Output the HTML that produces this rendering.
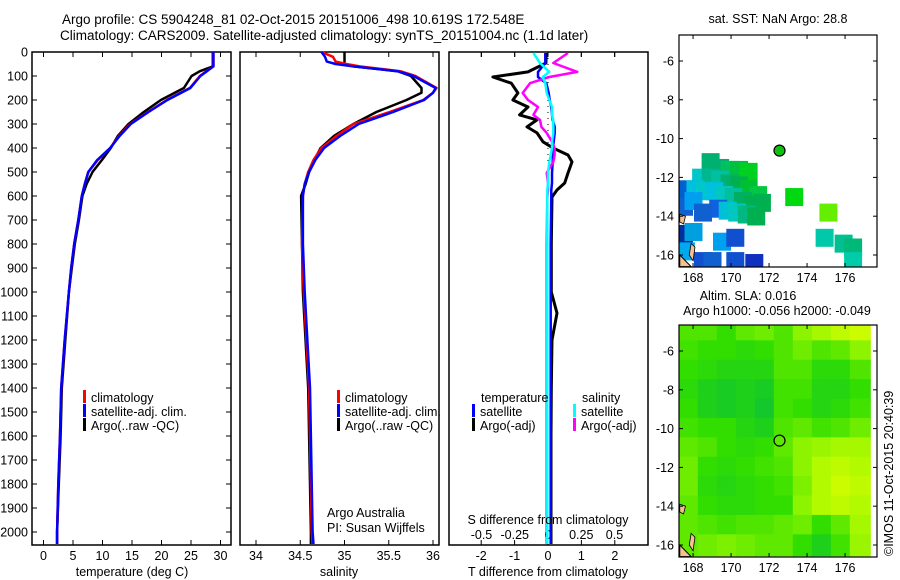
<!DOCTYPE html>
<html><head><meta charset="utf-8"><style>
html,body{margin:0;padding:0;background:#fff;}
svg{display:block;font-family:"Liberation Sans",sans-serif;}
text{fill:#000;}
</style></head><body>
<svg id="chart" width="900" height="580" viewBox="0 0 900 580" xmlns="http://www.w3.org/2000/svg">
<text x="62" y="24" font-size="13.5">Argo profile: CS 5904248_81 02-Oct-2015 20151006_498 10.619S 172.548E</text>
<text x="60" y="40" font-size="13.5">Climatology: CARS2009. Satellite-adjusted climatology: synTS_20151004.nc (1.1d later)</text>
<g id="g-main"></g>
<text x="132" y="576" font-size="12.5" text-anchor="middle">temperature (deg C)</text>
<text x="339" y="576" font-size="12.5" text-anchor="middle">salinity</text>
<text x="548" y="576" font-size="12.5" text-anchor="middle">T difference from climatology</text>
<text x="548" y="524" font-size="12.5" text-anchor="middle">S difference from climatology</text>
<text x="327" y="517" font-size="12.5">Argo Australia</text>
<text x="327" y="532" font-size="12.5">PI: Susan Wijffels</text>
<text x="778" y="23" font-size="12.5" text-anchor="middle">sat. SST: NaN Argo: 28.8</text>
<text x="748" y="300" font-size="12.5" text-anchor="middle">Altim. SLA: 0.016</text>
<text x="777" y="315" font-size="12.5" text-anchor="middle">Argo h1000: -0.056 h2000: -0.049</text>
<text transform="translate(893,556) rotate(-90)" font-size="12.5">©IMOS 11-Oct-2015 20:40:39</text>
</svg>
<script>
// ---- profile data ----
const depthT = [0,60,80,100,150,200,250,300,350,400,450,500,550,600,700,800,900,1000,1200,1400,1600,1800,2000,2050];
const tempClim = [28.8,28.8,27.6,26.5,24.8,20.9,17.7,14.7,12.8,11.3,9.2,7.6,7.0,6.5,5.9,5.2,4.7,4.3,3.6,3.0,2.8,2.5,2.3,2.3];
const tempSat  = [28.8,28.8,27.7,26.6,24.9,21.0,17.8,14.8,12.9,11.3,9.1,7.6,7.0,6.5,5.9,5.2,4.7,4.3,3.6,3.0,2.8,2.5,2.3,2.3];
const tempArgo = [28.7,28.7,26.5,25.1,23.8,19.9,17.0,14.4,12.6,11.4,9.9,8.3,7.3,6.6,6.0,5.3,4.8,4.3,3.7,3.1,2.9,2.6,2.3,2.3];
const depthS = [0,20,40,50,60,80,100,150,170,200,250,300,350,400,450,500,550,600,800,1000,1400,2000,2050];
const salClim = [34.74,34.87,34.9,35.02,35.17,35.63,35.8,36.04,36.0,35.89,35.51,35.1,34.91,34.74,34.65,34.59,34.55,34.53,34.52,34.54,34.6,34.63,34.64];
const salSat  = [34.74,34.78,34.8,34.9,35.1,35.6,35.78,36.03,36.0,35.9,35.55,35.16,34.95,34.77,34.67,34.6,34.55,34.53,34.53,34.55,34.61,34.64,34.65];
const salArgo = [35.0,35.0,35.0,35.0,35.1,35.6,35.75,35.87,35.87,35.7,35.36,35.1,34.88,34.73,34.66,34.6,34.56,34.51,34.52,34.53,34.59,34.62,34.62];
const depthD = [4,46,83,104,130,171,200,229,262,283,312,337,374,400,429,458,504,546,575,604,800,1000,1088,1200,1400,1600,1800,2050];
const tDiffArgo = [-0.06,-0.06,-0.6,-1.65,-1.1,-0.9,-1.05,-0.6,-0.85,-0.33,-0.63,-0.33,-0.15,0.15,0.6,0.72,0.6,0.5,0.27,0.12,0.1,0.1,0.27,0.12,0.1,0.09,0.09,0.09];
const tDiffSat  = [-0.08,-0.08,-0.3,-0.3,-0.05,0.02,0.05,0.1,0.12,0.14,0.2,0.2,0.17,0.15,0.15,0.14,0.12,0.12,0.1,0.1,0.08,0.08,0.08,0.08,0.08,0.08,0.08,0.08];
const sDiffArgo = [0.15,0.04,0.22,0.01,-0.135,-0.19,-0.15,-0.075,-0.11,-0.06,-0.05,-0.01,0.03,0.05,0.05,0.04,-0.01,0.0,0.0,-0.005,-0.01,-0.01,-0.01,-0.01,-0.01,-0.01,-0.01,-0.01];
const sDiffSat  = [-0.11,-0.06,0.01,-0.04,-0.02,-0.01,0.01,0.03,0.03,0.04,0.04,0.04,0.03,0.03,0.02,0.01,0.0,0.0,-0.005,-0.005,-0.005,-0.005,-0.005,-0.005,-0.005,-0.005,-0.005,-0.005];
const depthTicks = [0,100,200,300,400,500,600,700,800,900,1000,1100,1200,1300,1400,1500,1600,1700,1800,1900,2000];
const tempTicks = [0,5,10,15,20,25,30];
const salTicks = [34,34.5,35,35.5,36];
const tDiffTicks = [-2,-1,0,1,2];
const sDiffTicks = [-0.5,-0.25,0,0.25,0.5];
const sDiffTickLabels = ["-0.5","-0.25","0","0.25","0.5"];
// ---- SLA map grid (0=low/dark green, 1=high/yellow) rows from -5 to -16 ----
const slaLats = [-5,-6,-7,-8,-9,-10,-11,-12,-13,-14,-15,-16];
const slaLons = [167.8,168.8,169.8,170.8,171.8,172.8,173.8,174.8,175.8,176.8];
const slaVals = [
[0.5,0.5,0.4,0.55,0.6,0.5,0.7,0.8,0.9,0.95],
[0.45,0.4,0.4,0.35,0.4,0.5,0.6,0.5,0.55,0.7],
[0.4,0.35,0.3,0.3,0.3,0.5,0.5,0.35,0.35,0.5],
[0.35,0.25,0.2,0.25,0.2,0.45,0.45,0.3,0.3,0.4],
[0.4,0.25,0.2,0.25,0.15,0.45,0.4,0.3,0.35,0.45],
[0.45,0.4,0.4,0.3,0.25,0.5,0.55,0.45,0.5,0.6],
[0.55,0.5,0.4,0.35,0.4,0.55,0.7,0.75,0.8,0.8],
[0.6,0.4,0.35,0.4,0.45,0.5,0.7,0.85,0.9,0.85],
[0.6,0.35,0.3,0.35,0.4,0.45,0.65,0.85,0.95,0.9],
[0.55,0.4,0.35,0.35,0.4,0.4,0.7,0.85,0.9,0.85],
[0.55,0.5,0.45,0.5,0.5,0.55,0.6,0.4,0.55,0.8],
[0.55,0.6,0.65,0.6,0.55,0.55,0.4,0.25,0.45,0.75]];
// ---- SST map patches: lon, lat (cell centre), colour ----
const sstLon = [168.9,169.4,169.9,170.4,170.9,168.4,168.9,169.4,169.9,170.4,170.9,171.4,167.6,168.1,168.6,169.1,169.6,170.1,170.6,171.1,171.6,169.3,169.8,170.3,170.8,171.3,167.5,168.0,168.5,167.5,168.0,169.5,170.2,167.6,168.5,169.0,170.2,171.2,173.3,175.1,174.9,175.9,176.4,176.4];
const sstLat = [-11.2,-11.5,-11.6,-11.6,-11.7,-12.0,-12.0,-12.1,-12.3,-12.4,-12.6,-12.9,-12.6,-12.6,-12.7,-12.7,-12.9,-13.0,-13.2,-13.4,-13.3,-13.6,-13.7,-13.8,-13.9,-14.0,-13.5,-13.2,-13.8,-14.9,-14.8,-15.3,-15.1,-15.8,-16.3,-16.3,-16.3,-16.4,-13.0,-13.8,-15.1,-15.4,-15.6,-16.3];
const sstCol = ["#00b070","#00b070","#00c060","#00c040","#00d020","#00c8c8","#00b890","#00c0a0","#00b070","#00b050","#00c030","#00c840","#0060d0","#00c0e0","#00c8c8","#00c0e0","#00c8c0","#00c0a0","#00b060","#00b050","#00b050","#1060e0","#00c0d8","#00c8c0","#00b880","#00b050","#1060d0","#00a0f0","#1060d0","#0030a0","#00a0e0","#00a0f0","#1050d0","#00a8f0","#1050d0","#1060d0","#1050d0","#1030c0","#00d810","#66ee00","#00c8a8","#00c090","#00b878","#00ccaa"];

const NS="http://www.w3.org/2000/svg";
const G=document.getElementById('g-main');
function mk(tag,attrs,parent){const e=document.createElementNS(NS,tag);for(const k in attrs)e.setAttribute(k,attrs[k]);(parent||G).appendChild(e);return e;}
function txt(x,y,s,anchor,size,parent){const t=mk('text',{x:x,y:y,'font-size':size||12.5,'text-anchor':anchor||'start'},parent);t.textContent=s;return t;}

const TOP=52,BOT=545;
const yD=d=>TOP+d*0.24;
const xT=v=>43.5+v*5.9;
const xS=v=>256+(v-34)*88.5;
const xTD=v=>548+v*33.4;
const xSD=v=>548+v*133;

function frame(x0,x1,name){
  const r=mk('rect',{x:x0,y:TOP,width:x1-x0,height:BOT-TOP,fill:'none',stroke:'#000','stroke-width':1.5});
  
  
}
frame(32,231,'temperature-panel');
frame(240,439,'salinity-panel');
frame(449,648,'difference-panel');

depthTicks.forEach(d=>{
  const y=yD(d);
  mk('line',{x1:32,y1:y,x2:37,y2:y,stroke:'#000'});
  mk('line',{x1:226,y1:y,x2:231,y2:y,stroke:'#000'});
  const t=txt(28,y+4.5,String(d),'end',12.5);
  
  
});
function xticks(ticks,fx,labels,ly){
  ticks.forEach((v,i)=>{
    const x=fx(v);
    mk('line',{x1:x,y1:TOP,x2:x,y2:TOP+5,stroke:'#000'});
    mk('line',{x1:x,y1:BOT,x2:x,y2:BOT-5,stroke:'#000'});
    const t=txt(x,ly,labels[i],'middle',12.5);
    
    
  });
}
xticks(tempTicks,xT,tempTicks.map(String),560);
xticks(salTicks,xS,salTicks.map(String),560);
xticks(tDiffTicks,xTD,tDiffTicks.map(String),560);
sDiffTicks.forEach((v,i)=>{
  const t=txt(xSD(v),539,sDiffTickLabels[i],'middle',12.5);
  
  
  mk('line',{x1:xSD(v),y1:TOP,x2:xSD(v),y2:TOP+5,stroke:'#000'});
});
const z=mk('line',{x1:548,y1:TOP,x2:548,y2:BOT,stroke:'#000','stroke-dasharray':'1,5'});



function series(depths,vals,fx,color,name,w){
  const pts=depths.map((d,i)=>fx(vals[i]).toFixed(1)+','+yD(d).toFixed(1)).join(' ');
  const p=mk('polyline',{points:pts,fill:'none',stroke:color,'stroke-width':w||2.5,'stroke-linejoin':'round'});
  
  
}
series(depthT,tempArgo,xT,'#000','temp-argo-line');
series(depthT,tempClim,xT,'#f00','temp-climatology-line');
series(depthT,tempSat,xT,'#00f','temp-satellite-line');
series(depthS,salArgo,xS,'#000','sal-argo-line');
series(depthS,salClim,xS,'#f00','sal-climatology-line');
series(depthS,salSat,xS,'#00f','sal-satellite-line');
series(depthD,tDiffArgo,xTD,'#000','tdiff-argo-line',3);
series(depthD,tDiffSat,xTD,'#00f','tdiff-satellite-line');
series(depthD,sDiffArgo,xSD,'#f0f','sdiff-argo-line');
series(depthD,sDiffSat,xSD,'#0ff','sdiff-satellite-line');

function legItem(x,y,color,label,name){
  const g=mk('g',{});
  
  
  mk('rect',{x:x,y:y-10,width:3,height:13,fill:color},g);
  txt(x+8,y+2,label,'start',12.5,g);
}
[['#f00','climatology'],['#00f','satellite-adj. clim.'],['#000','Argo(..raw -QC)']].forEach((it,i)=>{
  legItem(83,400+i*14,it[0],it[1],'temp-legend-entry');
  legItem(337,400+i*14,it[0],it[1],'sal-legend-entry');
});
txt(481,402,'temperature','start',12.5);
txt(582,402,'salinity','start',12.5);
legItem(472,414,'#00f','satellite','tdiff-legend-satellite');
legItem(472,428,'#000','Argo(-adj)','tdiff-legend-argo');
legItem(573,414,'#0ff','satellite','sdiff-legend-satellite');
legItem(573,428,'#f0f','Argo(-adj)','sdiff-legend-argo');

// ---- maps ----
const MX0=679,MX1=877;
const mxL=lon=>MX0+(lon-167.26)*19;
function mapAxes(top,name,data){
  const bot=top+232;
  const myL=lat=>top+(-4.66-lat)*19.4;
  const g=mk('g',{});
  
  
  const cp='clip-'+name;
  const c=mk('clipPath',{id:cp},g);mk('rect',{x:MX0,y:top,width:MX1-MX0,height:bot-top},c);
  const inner=mk('g',{'clip-path':'url(#'+cp+')'},g);
  data(inner,myL);
  mk('polygon',{points:[mxL(167.3)+','+myL(-16.0),mxL(167.9)+','+myL(-16.6),mxL(167.3)+','+myL(-16.6)].join(' '),fill:'#f5c090',stroke:'#000'},inner);
  mk('polygon',{points:[mxL(167.9)+','+myL(-15.4),mxL(168.1)+','+myL(-15.6),mxL(168.0)+','+myL(-16.3),mxL(167.8)+','+myL(-16.0)].join(' '),fill:'#f5c090',stroke:'#000','stroke-width':0.8},inner);
  mk('polygon',{points:[mxL(167.3)+','+myL(-13.9),mxL(167.6)+','+myL(-14.0),mxL(167.5)+','+myL(-14.4),mxL(167.3)+','+myL(-14.3)].join(' '),fill:'#f5c090',stroke:'#000','stroke-width':0.8},inner);
  mk('rect',{x:MX0,y:top,width:MX1-MX0,height:bot-top,fill:'none',stroke:'#000','stroke-width':1.2},g);
  [168,170,172,174,176].forEach(l=>{
    const x=mxL(l);
    mk('line',{x1:x,y1:top,x2:x,y2:top+4,stroke:'#000'},g);
    mk('line',{x1:x,y1:bot,x2:x,y2:bot-4,stroke:'#000'},g);
    txt(x,bot+15,String(l),'middle',12.5,g);
  });
  [-6,-8,-10,-12,-14,-16].forEach(l=>{
    const y=myL(l);
    mk('line',{x1:MX0,y1:y,x2:MX0+4,y2:y,stroke:'#000'},g);
    mk('line',{x1:MX1,y1:y,x2:MX1-4,y2:y,stroke:'#000'},g);
    txt(674,y+4.5,String(l),'end',12.5,g);
  });
  return myL;
}
const myTop=mapAxes(35,'sst-map',(inner,myL)=>{
  sstLon.forEach((lon,i)=>{
    const cell=mk('rect',{x:mxL(lon-0.45),y:myL(sstLat[i]+0.45),width:18,height:18,fill:sstCol[i]},inner);
    
    
  });
});
const dot=mk('circle',{cx:mxL(172.55),cy:myTop(-10.62),r:5.5,fill:'#10c010',stroke:'#000','stroke-width':1.2});



function slaColor(t){
  const stops=[[0,[0,185,70]],[0.4,[50,222,0]],[0.7,[140,244,0]],[1,[215,255,0]]];
  for(let i=1;i<stops.length;i++){if(t<=stops[i][0]){const a=stops[i-1],b=stops[i];const f=(t-a[0])/(b[0]-a[0]);return 'rgb('+a[1].map((v,k)=>Math.round(v+(b[1][k]-v)*f)).join(',')+')';}}
  return 'rgb(215,255,0)';
}
const myBot=mapAxes(325,'sla-map',(inner,myL)=>{
  slaVals.forEach((row,r)=>row.forEach((v,c)=>{
    const cell=mk('rect',{x:mxL(slaLons[c]-0.55),y:myL(slaLats[r]+0.55),width:21,height:22,fill:slaColor(v)},inner);
    
    
  }));
});
const ring=mk('circle',{cx:mxL(172.55),cy:myBot(-10.62),r:5.5,fill:'none',stroke:'#000','stroke-width':1.2});


</script>
</body></html>
